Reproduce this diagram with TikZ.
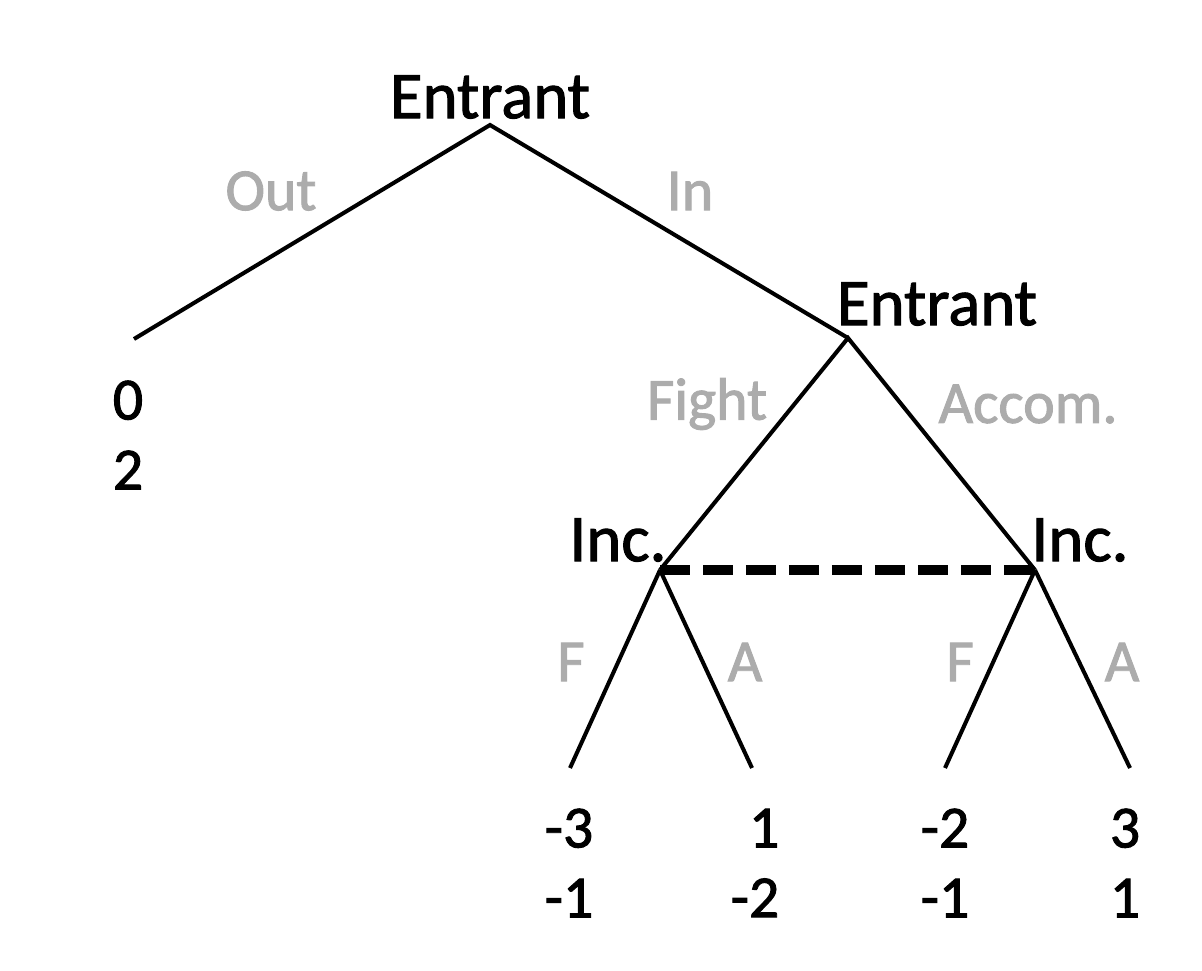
\documentclass[tikz,border=0pt]{standalone}
\usepackage{fontspec}
\newfontfamily\treefont{Carlito}[FakeBold=1.6]
\usetikzlibrary{positioning}
\definecolor{movegray}{RGB}{172,172,172}

\begin{document}
\begin{tikzpicture}
      [x=0.02cm,y=-0.02cm,
       every node/.style={font=\treefont\fontsize{38}{40}\selectfont,inner sep=0pt},
       move/.style={text=movegray,font=\treefont\fontsize{34}{36}\selectfont},
       payoff/.style={align=right,font=\treefont\fontsize{34}{39.8}\selectfont},
       branch/.style={line width=2.3pt,line join=miter}]
      \useasboundingbox (0,0) rectangle (1202,970);

      % decision nodes and leaves
      \coordinate (root) at (490,125);
      \coordinate (in)   at (848,338);
      \coordinate (out)  at (134,339);
      \coordinate (incL) at (660,570);
      \coordinate (incR) at (1035,570);
      \coordinate (l1) at (570,768);
      \coordinate (l2) at (752,768);
      \coordinate (l3) at (945,768);
      \coordinate (l4) at (1130,768);

      % players
      \node (p1) at (490,97)  {Entrant};
      \node (p2) at (937,304) {Entrant};
      \node (p3) at (618,540) {Inc.};
      \node (p4) at (1080,540) {Inc.};

      % moves
      \node[move] (mOut) at (271,191) {Out};
      \node[move] (mIn)  at (690,191) {In};
      \node[move] (mFight) at (707,404) {Fight};
      \node[move] (mAcc) at (1028,404) {Accom.};
      \node[move] (mF1) at (571,662) {F};
      \node[move] (mA1) at (745,662) {A};
      \node[move] (mF2) at (960,662) {F};
      \node[move] (mA2) at (1122,662) {A};

      \draw[branch] (out) -- (root) -- (in);
      \draw[branch] (incL) -- (in) -- (incR);
      \foreach \from/\to in {incL/l1,incL/l2,incR/l3,incR/l4}
        \draw[branch] (\from) -- (\to);

      \draw[line width=5.5pt,dash pattern=on 0.6cm off 0.26cm] (incL) -- (incR);

      % payoffs
      \node[payoff] (po) at (128,435) {0\\2};
      \foreach \n/\x/\a/\b in {pa/569/-3/-1,pb/755/1/-2,pc/945/-2/-1,pd/1125/3/1}
        \node[payoff] (\n) at (\x,863) {\a\\\b};

    \end{tikzpicture}
\end{document}
